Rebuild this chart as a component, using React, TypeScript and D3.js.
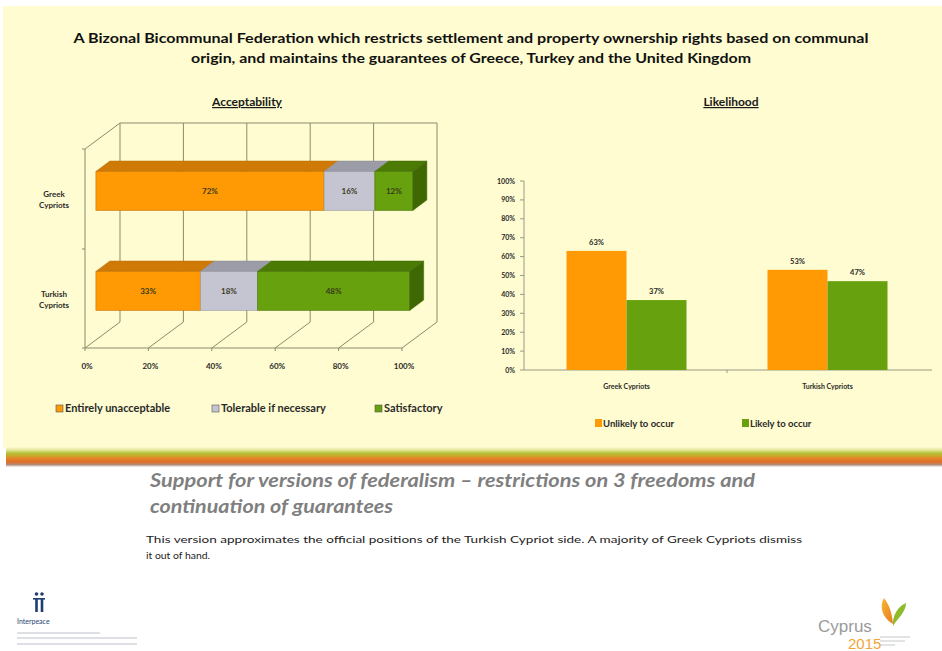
import React from "react";
import * as d3 from "d3";

const titleLines = [
  "A Bizonal Bicommunal Federation which restricts settlement and property ownership rights based on communal",
  "origin, and maintains the guarantees of Greece, Turkey and the United Kingdom",
];
const leftTitle = "Acceptability";
const rightTitle = "Likelihood";

const categoriesL = ["Greek Cypriots", "Turkish Cypriots"];
const seriesL = ["Entirely unacceptable", "Tolerable if necessary", "Satisfactory"];
const valuesL = [
  [72, 16, 12],
  [33, 18, 48],
];
const xTicksL = [0, 20, 40, 60, 80, 100];

const categoriesR = ["Greek Cypriots", "Turkish Cypriots"];
const seriesR = ["Unlikely to occur", "Likely to occur"];
const valuesR = [
  [63, 37],
  [53, 47],
];
const yTicksR = [0, 10, 20, 30, 40, 50, 60, 70, 80, 90, 100];

const subtitleLines = [
  "Support for versions of federalism \u2013 restrictions on 3 freedoms and",
  "continuation of guarantees",
];
const bodyLines = [
  "This version approximates the official positions of the Turkish Cypriot side.  A majority of Greek Cypriots dismiss",
  "it out of hand.",
];

const FONT = "Lato, 'Open Sans', sans-serif";

const colL = [
  { front: "#FF9A05", top: "#CF7A06", side: "#B86C04" },
  { front: "#C5C5D2", top: "#9C9CA8", side: "#8A8A96" },
  { front: "#67A10E", top: "#4C7B05", side: "#3F6804" },
];
const colR = ["#FF9A05", "#67A10E"];

export default function App() {
  // ---------- left 3D chart ----------
  const xL = d3.scaleLinear().domain([0, 100]).range([85, 402]);
  const yL = d3
    .scaleBand<string>()
    .domain(categoriesL)
    .range([149, 349])
    .paddingInner(0.61)
    .paddingOuter(0.305);
  const DX = 35;
  const DY = -26;
  const floorY = 348;
  const topY = 123;
  const d1 = 0.31;
  const d2 = 0.71;
  const P = (x: number, y: number, d: number) => `${x + d * DX},${y + d * DY}`;

  const gridCol = "#8B8B6E";

  const leftBars = categoriesL.map((cat, ci) => {
    const y0 = yL(cat)!;
    const y1 = y0 + yL.bandwidth();
    let acc = 0;
    const segs = valuesL[ci].map((v, si) => {
      const a = acc;
      acc += v;
      return { a, b: acc, v, si };
    });
    return (
      <g key={cat}>
        {segs.map((s) => {
          const xa = xL(s.a);
          const xb = xL(s.b);
          return (
            <g key={s.si}>
              <polygon
                points={[P(xa, y0, d1), P(xb, y0, d1), P(xb, y0, d2), P(xa, y0, d2)].join(" ")}
                fill={colL[s.si].top}
                stroke={colL[s.si].side}
                strokeWidth={0.5}
              />
              <polygon
                points={[P(xa, y0, d1), P(xb, y0, d1), P(xb, y1, d1), P(xa, y1, d1)].join(" ")}
                fill={colL[s.si].front}
                stroke={colL[s.si].side}
                strokeWidth={0.5}
              />
              <text
                x={(xa + xb) / 2 + d1 * DX}
                y={(y0 + y1) / 2 + d1 * DY + 3}
                textAnchor="middle"
                fontSize={8}
                fontWeight="bold"
                fill="#3a3a1a"
                fontFamily={FONT}
              >
                {s.v}%
              </text>
            </g>
          );
        })}
        {(() => {
          const last = segs[segs.length - 1];
          const xb = xL(last.b);
          return (
            <polygon
              points={[P(xb, y0, d1), P(xb, y0, d2), P(xb, y1, d2), P(xb, y1, d1)].join(" ")}
              fill={colL[last.si].side}
              stroke={colL[last.si].side}
              strokeWidth={0.5}
            />
          );
        })()}
      </g>
    );
  });

  // ---------- right chart ----------
  const xR = d3
    .scaleBand<string>()
    .domain(categoriesR)
    .range([526, 928])
    .paddingInner(0.403)
    .paddingOuter(0.2015);
  const xRi = d3.scaleBand<string>().domain(seriesR).range([0, xR.bandwidth()]);
  const yR = d3.scaleLinear().domain([0, 100]).range([370, 181]);
  const axisX = 524;

  return (
    <svg
      width={942}
      height={651}
      style={{ position: "absolute", left: 0, top: 0, background: "#ffffff" }}
      fontFamily={FONT}
    >
      <defs>
        <linearGradient id="band" x1="0" y1="0" x2="0" y2="1">
          <stop offset="0" stopColor="#FCFBD0" />
          <stop offset="0.15" stopColor="#E6E79A" />
          <stop offset="0.3" stopColor="#B5C43A" />
          <stop offset="0.45" stopColor="#C9A62A" />
          <stop offset="0.58" stopColor="#E5822A" />
          <stop offset="0.75" stopColor="#DF6E25" />
          <stop offset="0.88" stopColor="#B08A78" />
          <stop offset="1" stopColor="#F4F4F4" />
        </linearGradient>
        <linearGradient id="leafO" x1="0" y1="0" x2="1" y2="1">
          <stop offset="0" stopColor="#F7B733" />
          <stop offset="1" stopColor="#E87A1E" />
        </linearGradient>
      </defs>

      {/* panel */}
      <rect x={3} y={6} width={939} height={442} fill="#FEFCD0" />
      <rect x={6} y={447} width={936} height={20} fill="url(#band)" />

      {/* title */}
      {titleLines.map((t, i) => (
        <text
          key={i}
          x={471}
          y={43 + i * 20}
          textAnchor="middle"
          fontSize={13.5}
          fontWeight="bold"
          fill="#111"
          textLength={i === 0 ? 795 : 560}
          lengthAdjust="spacingAndGlyphs"
        >
          {t}
        </text>
      ))}

      {/* chart titles */}
      <text
        x={247}
        y={106}
        textAnchor="middle"
        fontSize={12}
        fontWeight="bold"
        fill="#1a1a1a"
        style={{ textDecoration: "underline" }}
      >
        {leftTitle}
      </text>
      <text
        x={731}
        y={106}
        textAnchor="middle"
        fontSize={12}
        fontWeight="bold"
        fill="#1a1a1a"
        style={{ textDecoration: "underline" }}
      >
        {rightTitle}
      </text>

      {/* 3D walls */}
      <g stroke={gridCol} strokeWidth={1} fill="none">
        <line x1={xL(0) + DX} y1={topY} x2={xL(100) + DX} y2={topY} />
        {xTicksL.map((t) => (
          <line key={"g" + t} x1={xL(t) + DX} y1={topY} x2={xL(t) + DX} y2={floorY + DY} />
        ))}
        {xTicksL.map((t) => (
          <line key={"f" + t} x1={xL(t)} y1={floorY} x2={xL(t) + DX} y2={floorY + DY} />
        ))}
        <line x1={xL(0)} y1={floorY} x2={xL(100)} y2={floorY} />
        {xTicksL.map((t) => (
          <line key={"tk" + t} x1={xL(t)} y1={floorY} x2={xL(t)} y2={floorY + 3} />
        ))}
        <line x1={xL(0)} y1={floorY} x2={xL(0)} y2={topY - DY} />
        <line x1={xL(0)} y1={topY - DY} x2={xL(0) + DX} y2={topY} />
        {[149, 249, 348].map((y) => (
          <line key={"yt" + y} x1={xL(0) - 3} y1={y} x2={xL(0)} y2={y} />
        ))}
      </g>

      {leftBars}

      {/* left axis labels */}
      {xTicksL.map((t) => (
        <text
          key={"xl" + t}
          x={xL(t) + 2}
          y={369}
          textAnchor="middle"
          fontSize={8}
          fontWeight="bold"
          fill="#2a2a2a"
        >
          {t}%
        </text>
      ))}
      {categoriesL.map((c) => {
        const cy = yL(c)! + yL.bandwidth() / 2;
        const parts = c.split(" ");
        return (
          <text key={c} textAnchor="middle" fontSize={8} fontWeight="bold" fill="#2a2a2a">
            {parts.map((p, i) => (
              <tspan key={i} x={54} y={cy - 2 + i * 11}>
                {p}
              </tspan>
            ))}
          </text>
        );
      })}

      {/* left legend */}
      {seriesL.map((s, i) => {
        const lx = [56, 212, 375][i];
        return (
          <g key={s}>
            <rect x={lx} y={405} width={7} height={7} fill={colL[i].front} stroke="#555" strokeWidth={0.6} />
            <text x={lx + 9} y={412} fontSize={11} fontWeight="bold" fill="#2a2a2a">
              {s}
            </text>
          </g>
        );
      })}

      {/* right chart axes */}
      <g stroke="#9A9A86" strokeWidth={1}>
        <line x1={axisX} y1={yR(100)} x2={axisX} y2={yR(0)} />
        <line x1={axisX} y1={yR(0)} x2={932} y2={yR(0)} />
        {yTicksR.map((t) => (
          <line key={"rt" + t} x1={axisX - 4} y1={yR(t)} x2={axisX} y2={yR(t)} />
        ))}
        <line x1={727} y1={yR(0)} x2={727} y2={yR(0) + 3} />
      </g>
      {yTicksR.map((t) => (
        <text
          key={"ry" + t}
          x={515}
          y={yR(t) + 2.5}
          textAnchor="end"
          fontSize={7}
          fontWeight="bold"
          fill="#2a2a2a"
        >
          {t}%
        </text>
      ))}
      {categoriesR.map((c, ci) => (
        <g key={c}>
          {seriesR.map((s, si) => {
            const x = xR(c)! + xRi(s)!;
            const v = valuesR[ci][si];
            return (
              <g key={s}>
                <rect x={x} y={yR(v)} width={xRi.bandwidth()} height={yR(0) - yR(v)} fill={colR[si]} />
                <text
                  x={x + xRi.bandwidth() / 2}
                  y={yR(v) - 6}
                  textAnchor="middle"
                  fontSize={7.5}
                  fontWeight="bold"
                  fill="#2a2a2a"
                >
                  {v}%
                </text>
              </g>
            );
          })}
          <text
            x={xR(c)! + xR.bandwidth() / 2}
            y={389}
            textAnchor="middle"
            fontSize={7}
            fontWeight="bold"
            fill="#2a2a2a"
          >
            {c}
          </text>
        </g>
      ))}
      {seriesR.map((s, i) => {
        const lx = [595, 742][i];
        return (
          <g key={s}>
            <rect x={lx} y={419} width={7} height={8} fill={colR[i]} />
            <text x={lx + 8} y={427} fontSize={9.5} fontWeight="bold" fill="#2a2a2a">
              {s}
            </text>
          </g>
        );
      })}

      {/* subtitle */}
      {subtitleLines.map((t, i) => (
        <text
          key={i}
          x={150}
          y={487 + i * 26}
          fontSize={18}
          fontWeight="bold"
          fontStyle="italic"
          fill="#7F7F7F"
          textLength={i === 0 ? 605 : 243}
          lengthAdjust="spacingAndGlyphs"
        >
          {t}
        </text>
      ))}
      {bodyLines.map((t, i) => (
        <text
          key={i}
          x={146}
          y={543 + i * 16}
          fontSize={9.5}
          fill="#222"
          textLength={i === 0 ? 656 : 64}
          lengthAdjust="spacingAndGlyphs"
        >
          {t}
        </text>
      ))}

      {/* interpeace logo */}
      <g fill="#1F3F73">
        <circle cx={36.5} cy={594} r={1.8} />
        <circle cx={42} cy={594} r={1.8} />
        <rect x={35.2} y={598} width={2.6} height={14} />
        <rect x={40.7} y={598} width={2.6} height={14} />
        <rect x={33} y={598} width={12} height={1.6} />
      </g>
      <text x={17} y={624} fontSize={7} fill="#1F3F73">
        Interpeace
      </text>
      <g stroke="#C0C0CE" strokeWidth={1.2}>
        <line x1={17} y1={633} x2={100} y2={633} />
        <line x1={17} y1={638} x2={137} y2={638} />
        <line x1={17} y1={644} x2={137} y2={644} />
      </g>

      {/* Cyprus 2015 logo */}
      <text x={818} y={632} fontSize={17} fill="#9A9A9A" fontFamily="'Liberation Sans Narrow', 'Liberation Sans', sans-serif">
        Cyprus
      </text>
      <text x={848} y={649} fontSize={15} fill="#F2A43A" fontFamily="'Liberation Sans Narrow', 'Liberation Sans', sans-serif">
        2015
      </text>
      <path d="M884,598 C879,606 882,618 893,624 C892,614 890,606 884,598 Z" fill="url(#leafO)" />
      <path d="M893,626 C898,618 906,612 906,603 C898,606 892,616 893,626 Z" fill="#8DBB2A" />
      <g stroke="#C8C8C8" strokeWidth={1}>
        <line x1={880} y1={637} x2={910} y2={637} />
        <line x1={880} y1={641} x2={905} y2={641} />
        <line x1={880} y1={645} x2={895} y2={645} />
      </g>
    </svg>
  );
}
